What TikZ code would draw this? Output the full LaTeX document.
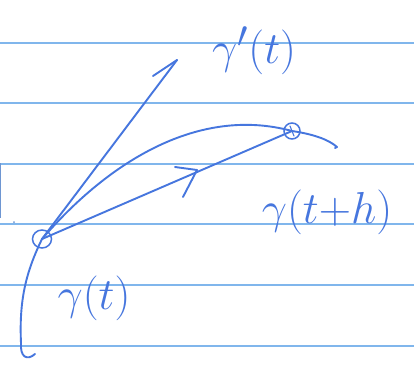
\documentclass[tikz,border=0pt]{standalone}
\usepackage{graphicx}
\usetikzlibrary{calc,shapes.geometric}
\definecolor{ink}{RGB}{70,118,222}
\definecolor{rule}{RGB}{128,182,236}
\definecolor{edgemark}{RGB}{110,150,210}
\newcommand{\biglab}[1]{\scalebox{1.8}{\Huge #1}}
\begin{document}
\begin{tikzpicture}[x=1pt,y=-1pt,
  ruling/.style={draw=rule,line width=1.3pt},
  pen/.style={draw=ink,line width=1.9pt,line cap=round,line join=round},
  ptcircle/.style={draw=ink,line width=1.5pt,ellipse,inner sep=0pt},
  lab/.style={text=ink,inner sep=0pt}]
\useasboundingbox (0,0) rectangle (414,383);
\fill[white] (0,0) rectangle (414,383);
% ruled paper
\foreach \yy in {43,103,164,224,285,346}
  \draw[ruling] (0,\yy) -- (414,\yy);
\draw[edgemark,line width=1.2pt] (0.8,163) -- (0.8,218);
\fill[edgemark] (14,222) circle (1pt);
% points
\node[ptcircle,minimum width=19pt,minimum height=18pt] (p0) at (42,239) {};
\node[ptcircle,minimum width=16pt,minimum height=16pt] (p1) at (292,131) {};
\coordinate (c0) at (42,239);
\coordinate (c1) at (292,131);
\coordinate (tip) at (177,60);
\coordinate (bot) at (35,354);
\coordinate (tail) at (337,147);
% curve gamma
\draw[pen] (bot) .. controls (27,361) and (20,357) .. (21,343)
  .. controls (19,300) and (26,272) .. (c0)
  .. controls (110,160) and (200,106) .. (c1)
  .. controls (312,134) and (328,139) .. (tail) -- ++(-2,1);
% tangent vector
\draw[pen] (c0) -- (tip);
\draw[pen] (153,76) -- (tip);
% secant
\draw[pen] (c0) -- (c1);
\coordinate (mid) at (197,170);
\draw[pen] (175,167) -- (mid) -- (183,197);
\draw[pen,line width=1.1pt] (290,126) -- (294,136);
% labels
\node[lab] (lgp) at (254,51) {\biglab{$\gamma'(t)$}};
\node[lab] (lgh) at (327,212) {\biglab{$\gamma(t{+}h)$}};
\node[lab] (lg) at (94,298) {\biglab{$\gamma(t)$}};
\end{tikzpicture}
\end{document}
